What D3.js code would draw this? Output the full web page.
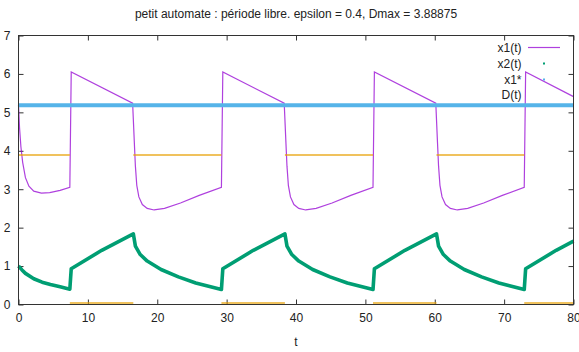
<!DOCTYPE html>
<html>
<head>
<meta charset="utf-8">
<script src="https://cdn.jsdelivr.net/npm/d3@7"></script>
<style>
  body { margin: 0; background: #fff; }
  text { font-family: "Liberation Sans", Arial, sans-serif; fill: #222; }
</style>
</head>
<body>
<svg id="chart" width="579" height="352"></svg>
<script>
// values
var titleText = "petit automate : période libre. epsilon = 0.4, Dmax = 3.88875";
var xTicks = [0, 10, 20, 30, 40, 50, 60, 70, 80];
var yTicks = [0, 1, 2, 3, 4, 5, 6, 7];
var legendNames = ["x1(t)", "x2(t)", "x1*", "D(t)"];

// x1(t) : [t, value]
var x1Points = [
  [0, 5.2], [0.15, 4.6], [0.35, 4.1], [0.6, 3.7], [1.0, 3.3], [1.5, 3.08], [2.2, 2.95], [3.3, 2.9], [4.5, 2.91], [6, 2.97], [7.4, 3.05],
  [7.6, 6.05], [16.45, 5.24],
  [16.7, 4.2], [16.85, 3.6], [17.05, 3.1], [17.35, 2.8], [17.85, 2.6], [18.55, 2.5], [19.55, 2.46], [21.05, 2.5], [23.35, 2.64], [26.05, 2.84], [29.25, 3.05],
  [29.45, 6.05], [38.3, 5.24],
  [38.55, 4.2], [38.7, 3.6], [38.9, 3.1], [39.2, 2.8], [39.7, 2.6], [40.4, 2.5], [41.4, 2.46], [42.9, 2.5], [45.2, 2.64], [47.9, 2.84], [51.1, 3.05],
  [51.3, 6.05], [60.15, 5.24],
  [60.4, 4.2], [60.55, 3.6], [60.75, 3.1], [61.05, 2.8], [61.55, 2.6], [62.25, 2.5], [63.25, 2.46], [64.75, 2.5], [67.05, 2.64], [69.75, 2.84], [72.9, 3.05],
  [73.1, 6.05], [80, 5.41]
];

// x2(t)
var x2Points = [
  [0, 1.0], [0.5, 0.9], [1.0, 0.81], [2.2, 0.67], [3.4, 0.58], [4.6, 0.52], [6, 0.46], [7.4, 0.40],
  [7.6, 0.93], [12, 1.41], [16.55, 1.84],
  [16.85, 1.52], [17.55, 1.3], [18.55, 1.13], [20.55, 0.91], [23.05, 0.72], [25.55, 0.56], [29.25, 0.39],
  [29.45, 0.93], [33.85, 1.41], [38.4, 1.84],
  [38.7, 1.52], [39.4, 1.3], [40.4, 1.13], [42.4, 0.91], [44.9, 0.72], [47.4, 0.56], [51.1, 0.39],
  [51.3, 0.93], [55.7, 1.41], [60.25, 1.84],
  [60.55, 1.52], [61.25, 1.3], [62.25, 1.13], [64.25, 0.91], [66.75, 0.72], [69.25, 0.56], [72.9, 0.39],
  [73.1, 0.93], [77.5, 1.41], [80, 1.65]
];

// x1* (constant)
var x1Star = 5.186;

// D(t) : piecewise constant, one level per interval
var dStart = [0, 7.4, 16.55, 29.25, 38.4, 51.1, 60.25, 72.9];
var dEnd   = [7.4, 16.55, 29.25, 38.4, 51.1, 60.25, 72.9, 80];
var dLevel = [3.889, 0.04, 3.889, 0.04, 3.889, 0.04, 3.889, 0.04];

var colors = {x1: "#9400d3", x2: "#009e73", star: "#56b4e9", d: "#e69f00"};

var svg = d3.select("#chart");
var margin = {left: 18.5, right: 573.5, top: 35.5, bottom: 304.5};

var x = d3.scaleLinear().domain([0, 80]).range([margin.left, margin.right]);
var y = d3.scaleLinear().domain([0, 7]).range([margin.bottom, margin.top]);

svg.append("text")
  .attr("x", (margin.left + margin.right) / 2)
  .attr("y", 18)
  .attr("text-anchor", "middle")
  .style("font-size", "12px")
  .text(titleText);

// axes with inward ticks on all four sides
function styleAxis(g) {
  g.select(".domain").remove();
  g.selectAll(".tick line").attr("stroke", "#333");
  g.selectAll(".tick text").style("font-size", "12px").attr("fill", "#222")
    .style("font-family", "'Liberation Sans', Arial, sans-serif");
}
var fmt = d3.format("d");
svg.append("g")
  .attr("transform", "translate(0," + margin.bottom + ")")
  .call(d3.axisBottom(x).tickValues(xTicks).tickFormat(fmt).tickSize(-5).tickPadding(9))
  .call(styleAxis);
svg.append("g")
  .attr("transform", "translate(0," + margin.top + ")")
  .call(d3.axisTop(x).tickValues(xTicks).tickSize(-5).tickFormat(""))
  .call(styleAxis);
svg.append("g")
  .attr("transform", "translate(" + margin.left + ",0)")
  .call(d3.axisLeft(y).tickValues(yTicks).tickFormat(fmt).tickSize(-5).tickPadding(8))
  .call(styleAxis);
svg.append("g")
  .attr("transform", "translate(" + margin.right + ",0)")
  .call(d3.axisRight(y).tickValues(yTicks).tickSize(-5).tickFormat(""))
  .call(styleAxis);

svg.append("text")
  .attr("x", (margin.left + margin.right) / 2)
  .attr("y", 346)
  .attr("text-anchor", "middle")
  .style("font-size", "12px")
  .text("t");

var plot = svg.append("g");
var line = d3.line()
  .x(function (d) { return x(d[0]); })
  .y(function (d) { return y(d[1]); });

plot.append("path")
  .datum(x1Points)
  .attr("fill", "none")
  .attr("stroke", colors.x1)
  .attr("stroke-opacity", 0.75)
  .attr("stroke-width", 1.2)
  .attr("d", line);

plot.append("path")
  .datum(x2Points)
  .attr("fill", "none")
  .attr("stroke", colors.x2)
  .attr("stroke-width", 3.6)
  .attr("stroke-linejoin", "round")
  .attr("d", line);

plot.append("line")
  .attr("x1", x(0)).attr("x2", x(80))
  .attr("y1", y(x1Star)).attr("y2", y(x1Star))
  .attr("stroke", colors.star)
  .attr("stroke-width", 4);

plot.selectAll(".dseg")
  .data(dStart)
  .enter().append("line")
  .attr("class", "dseg")
  .attr("x1", function (d) { return x(d); })
  .attr("x2", function (d, i) { return x(dEnd[i]); })
  .attr("y1", function (d, i) { return y(dLevel[i]); })
  .attr("y2", function (d, i) { return y(dLevel[i]); })
  .attr("stroke", colors.d)
  .attr("stroke-opacity", 0.85)
  .attr("stroke-width", 1.4);

// frame
svg.append("rect")
  .attr("x", margin.left).attr("y", margin.top)
  .attr("width", margin.right - margin.left).attr("height", margin.bottom - margin.top)
  .attr("fill", "none")
  .attr("stroke", "#333")
  .attr("stroke-width", 1);

// legend
var legend = svg.append("g");
var rowY = [47.5, 63.5, 79.5, 95];
legend.selectAll("text")
  .data(legendNames)
  .enter().append("text")
  .attr("x", 521.5)
  .attr("y", function (d, i) { return rowY[i]; })
  .attr("dy", "0.35em")
  .attr("text-anchor", "end")
  .style("font-size", "12px")
  .text(function (d) { return d; });
legend.append("line")
  .attr("x1", 528).attr("x2", 560)
  .attr("y1", rowY[0]).attr("y2", rowY[0])
  .attr("stroke", colors.x1).attr("stroke-opacity", 0.75).attr("stroke-width", 1.2);
legend.append("rect")
  .attr("x", 543).attr("y", rowY[1] - 1).attr("width", 2).attr("height", 2)
  .attr("fill", colors.x2);
legend.append("rect")
  .attr("x", 543).attr("y", rowY[2] - 1).attr("width", 2).attr("height", 2)
  .attr("fill", colors.star);
</script>
</body>
</html>
